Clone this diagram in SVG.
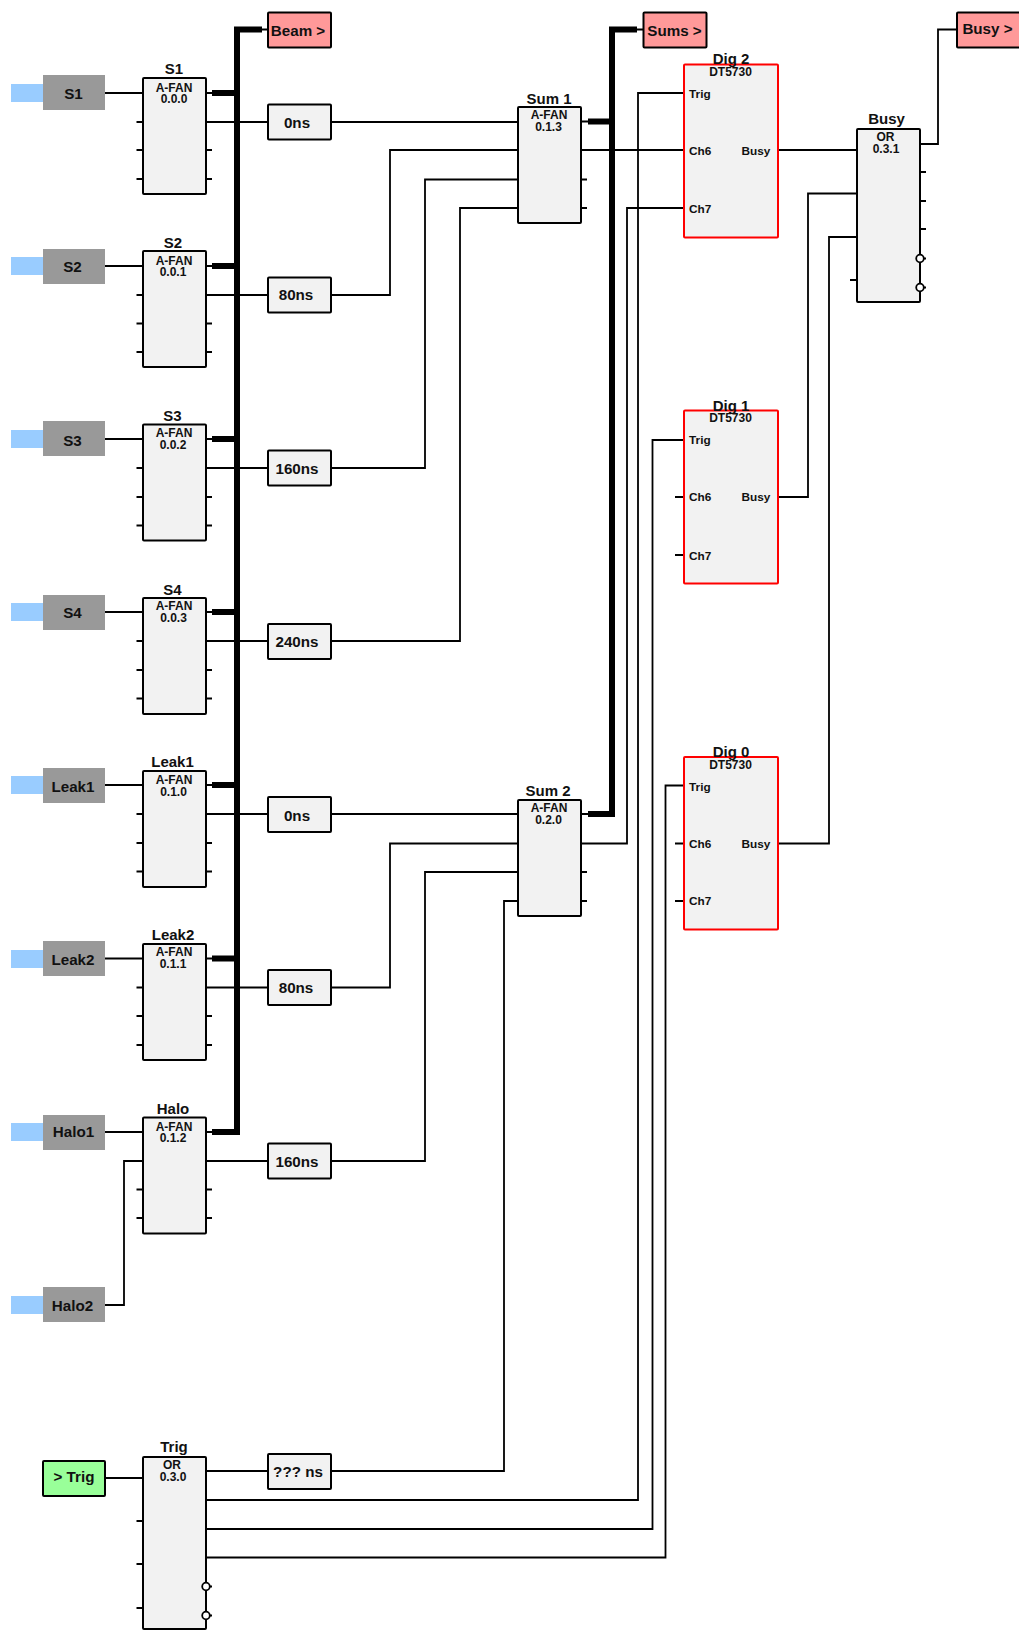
<svg xmlns="http://www.w3.org/2000/svg" width="1019" height="1632" viewBox="0 0 1019 1632">
<style>
text{font-family:"Liberation Sans",Arial,sans-serif;font-weight:bold;fill:#111;text-anchor:middle}
.t{font-size:15px}.s{font-size:12px}.p{font-size:11.800px;text-anchor:start}
.l{font-size:15.200px}
.box{fill:#f2f2f2;stroke:#000;stroke-width:2}
.dig{fill:#f2f2f2;stroke:#f00;stroke-width:2}
.out{fill:#ff9999;stroke:#000;stroke-width:2}
.in{fill:#99ff99;stroke:#000;stroke-width:2}
.src{fill:#999}.tail{fill:#99ccff}
.w{fill:none;stroke:#000;stroke-width:1.800}
.bus{fill:none;stroke:#000;stroke-width:6}
.b{fill:#fff;stroke:#000;stroke-width:1.800}
</style>
<g id="connectors">
<path class="w" d="M105 93H143M105 266H143M105 439H143M105 612H143M105 785H143M105 958.500H143M105 1132H143"/>
<path class="w" d="M105 1305H124V1161H143M105 1478H143"/>
<path class="w" d="M136.500 122H143M136.500 150H143M136.500 179H143M136.500 295H143M136.500 323.500H143M136.500 352H143M136.500 468H143M136.500 497H143M136.500 525.500H143M136.500 641H143M136.500 670H143M136.500 698.500H143M136.500 814H143M136.500 843H143M136.500 871.500H143M136.500 987.500H143M136.500 1016H143M136.500 1045H143M136.500 1189.500H143M136.500 1218H143M136.500 1521H143M136.500 1564H143M136.500 1608H143"/>
<path class="w" d="M206 150H212M206 179H212M206 323.500H212M206 352H212M206 497H212M206 525.500H212M206 670H212M206 698.500H212M206 843H212M206 871.500H212M206 1016H212M206 1045H212M206 1189.500H212M206 1218H212"/>
<path class="w" d="M206 93H214M206 266H214M206 439H214M206 612H214M206 785H214M206 958.500H214M206 1132H214M581 121.500H590M581 814H590M262 29.500H268M637 29.500H643"/>
<path class="w" d="M206 122H268M331 122H518"/>
<path class="w" d="M206 295H268M331 295H390V150H518"/>
<path class="w" d="M206 468H268M331 468H425V179.500H518"/>
<path class="w" d="M206 641H268M331 641H460V208H518"/>
<path class="w" d="M206 814H268M331 814H518"/>
<path class="w" d="M206 987.500H268M331 987.500H390V843.500H518"/>
<path class="w" d="M206 1161H268M331 1161H425V872H518"/>
<path class="w" d="M206 1471H268M331 1471H504V901H518"/>
<path class="w" d="M206 1500H638V93H684"/>
<path class="w" d="M206 1529H652.500V440H684"/>
<path class="w" d="M206 1557.500H665.500V785.500H684"/>
<path class="w" d="M581 150H684M778 150H857"/>
<path class="w" d="M581 843.500H627V208H684"/>
<path class="w" d="M581 179.500H587M581 208H587M581 872H587M581 901H587"/>
<path class="w" d="M675 497H684M675 555H684M675 843.500H684M675 901H684"/>
<path class="w" d="M778 497H808V193.500H857"/>
<path class="w" d="M778 843.500H829V237H857"/>
<path class="w" d="M920 144H938V29.500H957"/>
<path class="w" d="M920 172H926M920 201H926M920 229H926M920 258.500H926M920 287.500H926M850 280H857"/>
<path class="w" d="M206 1586.500H212M206 1615.500H212"/>
<path class="bus" d="M262 29.500H237V1132H212M237 93H212M237 266H212M237 439H212M237 612H212M237 785H212M237 958.500H212"/>
<path class="bus" d="M637 29.500H612V814H588M612 121.500H588"/>
</g>
<g id="src-s1"><rect class="tail" x="11" y="84" width="32" height="18"/><rect class="src" x="43" y="75" width="62" height="35"/><text class="l" x="73.500" y="99">S1</text></g>
<g id="src-s2"><rect class="tail" x="11" y="257" width="32" height="18"/><rect class="src" x="43" y="249" width="62" height="35"/><text class="l" x="72.500" y="271.500">S2</text></g>
<g id="src-s3"><rect class="tail" x="11" y="430" width="32" height="18"/><rect class="src" x="43" y="421" width="62" height="35"/><text class="l" x="72.500" y="446">S3</text></g>
<g id="src-s4"><rect class="tail" x="11" y="603" width="32" height="18"/><rect class="src" x="43" y="595" width="62" height="35"/><text class="l" x="72.500" y="618">S4</text></g>
<g id="src-leak1"><rect class="tail" x="11" y="776" width="32" height="18"/><rect class="src" x="43" y="768" width="62" height="35"/><text class="l" x="73" y="792">Leak1</text></g>
<g id="src-leak2"><rect class="tail" x="11" y="950" width="32" height="18"/><rect class="src" x="43" y="941" width="62" height="35"/><text class="l" x="73" y="965">Leak2</text></g>
<g id="src-halo1"><rect class="tail" x="11" y="1123" width="32" height="18"/><rect class="src" x="43" y="1115" width="62" height="35"/><text class="l" x="73.500" y="1137">Halo1</text></g>
<g id="src-halo2"><rect class="tail" x="11" y="1296" width="32" height="18"/><rect class="src" x="43" y="1287" width="62" height="35"/><text class="l" x="72.500" y="1311">Halo2</text></g>
<g id="in-trig"><rect class="in" x="43" y="1461" width="62" height="35" rx="1"/><text class="l" x="74" y="1482">&gt; Trig</text></g>
<g id="fan-s1"><rect class="box" x="143" y="78" width="63" height="116" rx="1"/><text class="t" x="174" y="74">S1</text><text class="s" x="174" y="91.500">A-FAN</text><text class="s" x="174" y="103">0.0.0</text></g>
<g id="fan-s2"><rect class="box" x="143" y="251" width="63" height="116" rx="1"/><text class="t" x="173" y="248">S2</text><text class="s" x="174" y="265">A-FAN</text><text class="s" x="173" y="276">0.0.1</text></g>
<g id="fan-s3"><rect class="box" x="143" y="424.500" width="63" height="116" rx="1"/><text class="t" x="172.500" y="421">S3</text><text class="s" x="174" y="437">A-FAN</text><text class="s" x="173" y="449">0.0.2</text></g>
<g id="fan-s4"><rect class="box" x="143" y="598" width="63" height="116" rx="1"/><text class="t" x="172.500" y="595">S4</text><text class="s" x="174" y="610">A-FAN</text><text class="s" x="173.500" y="622">0.0.3</text></g>
<g id="fan-leak1"><rect class="box" x="143" y="771" width="63" height="116" rx="1"/><text class="t" x="172.500" y="767">Leak1</text><text class="s" x="174" y="784">A-FAN</text><text class="s" x="173.500" y="796">0.1.0</text></g>
<g id="fan-leak2"><rect class="box" x="143" y="944" width="63" height="116" rx="1"/><text class="t" x="173" y="940">Leak2</text><text class="s" x="174" y="956">A-FAN</text><text class="s" x="173" y="968">0.1.1</text></g>
<g id="fan-halo"><rect class="box" x="143" y="1117.500" width="63" height="116" rx="1"/><text class="t" x="173" y="1114">Halo</text><text class="s" x="174" y="1130.500">A-FAN</text><text class="s" x="173" y="1141.500">0.1.2</text></g>
<g id="or-trig"><rect class="box" x="143" y="1457" width="63" height="172" rx="1"/><text class="t" x="174" y="1452">Trig</text><text class="s" x="172" y="1469">OR</text><text class="s" x="173" y="1480.500">0.3.0</text></g>
<g id="fan-sum1"><rect class="box" x="518" y="107" width="63" height="116" rx="1"/><text class="t" x="549" y="104">Sum 1</text><text class="s" x="549" y="119">A-FAN</text><text class="s" x="548.500" y="131">0.1.3</text></g>
<g id="fan-sum2"><rect class="box" x="518" y="800" width="63" height="116" rx="1"/><text class="t" x="548" y="796">Sum 2</text><text class="s" x="549" y="812">A-FAN</text><text class="s" x="548.500" y="824">0.2.0</text></g>
<g id="or-busy"><rect class="box" x="857" y="129" width="63" height="173" rx="1"/><text class="t" x="886.500" y="124">Busy</text><text class="s" x="885.500" y="141">OR</text><text class="s" x="886" y="153">0.3.1</text></g>
<g id="dig2"><rect class="dig" x="684" y="64.500" width="94" height="173" rx="1"/><text class="t" x="731" y="64">Dig 2</text><text class="s" x="730.500" y="76">DT5730</text><text class="p" x="689" y="98">Trig</text><text class="p" x="689" y="155">Ch6</text><text class="p" x="689" y="213">Ch7</text><text class="p" x="741.500" y="155">Busy</text></g>
<g id="dig1"><rect class="dig" x="684" y="410.500" width="94" height="173" rx="1"/><text class="t" x="731" y="411">Dig 1</text><text class="s" x="730.500" y="422">DT5730</text><text class="p" x="689" y="444">Trig</text><text class="p" x="689" y="501">Ch6</text><text class="p" x="689" y="560">Ch7</text><text class="p" x="741.500" y="501">Busy</text></g>
<g id="dig0"><rect class="dig" x="684" y="757" width="94" height="172.500" rx="1"/><text class="t" x="731" y="757">Dig 0</text><text class="s" x="730.500" y="769">DT5730</text><text class="p" x="689" y="791">Trig</text><text class="p" x="689" y="848">Ch6</text><text class="p" x="689" y="905">Ch7</text><text class="p" x="741.500" y="848">Busy</text></g>
<g id="beam"><rect class="out" x="268" y="12.500" width="63" height="35" rx="1"/><text class="l" x="298" y="36">Beam &gt;</text></g>
<g id="sums"><rect class="out" x="643.500" y="12.500" width="63" height="35" rx="1"/><text class="l" x="674.500" y="36">Sums &gt;</text></g>
<g id="busy-out"><rect class="out" x="957" y="12.500" width="63" height="35" rx="1"/><text class="l" x="987.500" y="34">Busy &gt;</text></g>
<g id="d0"><rect class="box" x="268" y="104.500" width="63" height="35" rx="1"/><text class="l" x="297" y="128">0ns</text></g>
<g id="d1"><rect class="box" x="268" y="277.500" width="63" height="35" rx="1"/><text class="l" x="296" y="300">80ns</text></g>
<g id="d2"><rect class="box" x="268" y="450.500" width="63" height="35" rx="1"/><text class="l" x="297" y="474">160ns</text></g>
<g id="d3"><rect class="box" x="268" y="624" width="63" height="35" rx="1"/><text class="l" x="297" y="647">240ns</text></g>
<g id="d4"><rect class="box" x="268" y="797" width="63" height="35" rx="1"/><text class="l" x="297" y="821">0ns</text></g>
<g id="d5"><rect class="box" x="268" y="970" width="63" height="35" rx="1"/><text class="l" x="296" y="993">80ns</text></g>
<g id="d6"><rect class="box" x="268" y="1143.500" width="63" height="35" rx="1"/><text class="l" x="297" y="1167">160ns</text></g>
<g id="d7"><rect class="box" x="268" y="1454" width="63" height="35" rx="1"/><text class="l" x="298" y="1477">??? ns</text></g>
<g id="bubbles"><circle class="b" cx="920" cy="258.500" r="3.800"/><circle class="b" cx="920" cy="287.500" r="3.800"/><circle class="b" cx="206" cy="1586.500" r="3.800"/><circle class="b" cx="206" cy="1615.500" r="3.800"/></g>
</svg>
